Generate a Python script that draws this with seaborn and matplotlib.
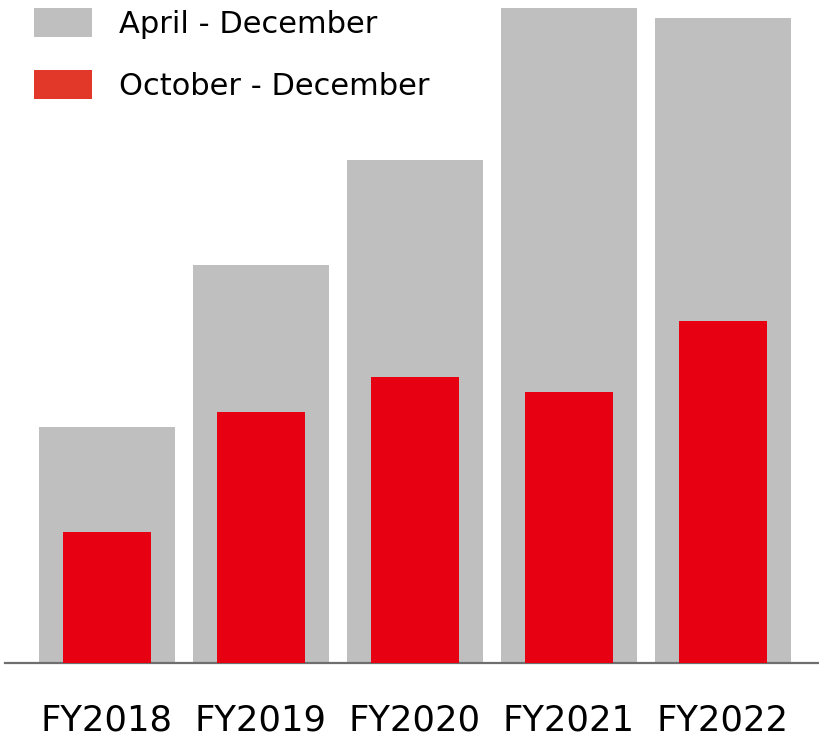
import matplotlib
matplotlib.use("Agg")
import matplotlib.pyplot as plt
from matplotlib.patches import Patch
import seaborn as sns
import pandas as pd

# Fiscal years and cumulative / quarterly results (same units)
years = ["FY2018", "FY2019", "FY2020", "FY2021", "FY2022"]
april_december = [236, 398, 503, 655, 645]
october_december = [131, 251, 286, 271, 342]

series_labels = ["April - December", "October - December"]
bar_colors = ["#BFBFBF", "#E60012"]
legend_colors = ["#BFBFBF", "#E2382A"]

df = pd.DataFrame({
    "year": years,
    "apr_dec": april_december,
    "oct_dec": october_december,
})

sns.set_theme(style="white")
plt.rcParams["font.family"] = ["DejaVu Sans"]

fig = plt.figure(figsize=(8.2, 7.38), dpi=100)
ax = fig.add_axes([5 / 820, 75 / 738, 815 / 820, 663 / 738])

sns.barplot(data=df, x="year", y="apr_dec", color=bar_colors[0],
            width=0.883, saturation=1, linewidth=0, ax=ax, zorder=2)
sns.barplot(data=df, x="year", y="oct_dec", color=bar_colors[1],
            width=0.571, saturation=1, linewidth=0, ax=ax, zorder=3)

ax.set_xlim(-0.662, 4.63)
ax.set_ylim(0, 663)
ax.set_xlabel("")
ax.set_ylabel("")
ax.set_yticks([])
ax.tick_params(axis="x", length=0, pad=29.5, labelsize=25.5, labelcolor="black")
for side in ["top", "right", "left"]:
    ax.spines[side].set_visible(False)
ax.spines["bottom"].set_color("#6E6E6E")
ax.spines["bottom"].set_linewidth(1.6)

handles = [Patch(facecolor=c, edgecolor="none") for c in legend_colors]
fig.legend(handles, series_labels, loc="upper left",
           bbox_to_anchor=(34 / 820, 1 - 8 / 738), frameon=False,
           fontsize=22, labelcolor="black", handlelength=1.9,
           handleheight=1.08, handletextpad=0.88, labelspacing=1.02,
           borderpad=0, borderaxespad=0)

fig.savefig("out.png", dpi=100)
